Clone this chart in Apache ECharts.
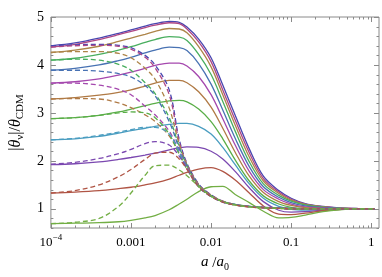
<!DOCTYPE html>
<html><head><meta charset="utf-8">
<script src="https://cdn.jsdelivr.net/npm/echarts@6/dist/echarts.min.js"></script>
<style>html,body{margin:0;padding:0;background:#fff}#c{width:382px;height:277px}</style>
</head><body><div id="c"></div><script>
// x positions (a / a0) shared by all curves
const aValues = [0.0001, 0.0002, 0.0004, 0.0007, 0.001, 0.0015, 0.002, 0.003, 0.004, 0.005, 0.007, 0.01, 0.014, 0.02, 0.03, 0.045, 0.07, 0.1, 0.15, 0.25, 0.4, 0.7, 1.1];

// solid curves (top to bottom)
const solid01 = [4.40, 4.46, 4.56, 4.66, 4.73, 4.81, 4.86, 4.91, 4.89, 4.79, 4.54, 4.15, 3.58, 2.95, 2.25, 1.68, 1.38, 1.22, 1.11, 1.05, 1.02, 1.005, 1.0];
const solid02 = [4.37, 4.43, 4.53, 4.63, 4.70, 4.78, 4.83, 4.88, 4.86, 4.75, 4.48, 4.07, 3.48, 2.85, 2.17, 1.63, 1.35, 1.20, 1.10, 1.045, 1.02, 1.005, 1.0];
const solid03 = [4.26, 4.31, 4.39, 4.49, 4.56, 4.64, 4.70, 4.76, 4.75, 4.67, 4.38, 3.96, 3.38, 2.75, 2.08, 1.58, 1.32, 1.18, 1.09, 1.04, 1.015, 1.0, 1.0];
const solid04 = [4.10, 4.14, 4.22, 4.31, 4.38, 4.47, 4.53, 4.59, 4.58, 4.51, 4.22, 3.80, 3.24, 2.62, 1.98, 1.52, 1.28, 1.16, 1.08, 1.035, 1.01, 1.0, 1.0];
const solid05 = [3.89, 3.93, 4.00, 4.09, 4.16, 4.25, 4.31, 4.37, 4.36, 4.30, 4.03, 3.60, 3.06, 2.47, 1.88, 1.46, 1.24, 1.13, 1.06, 1.025, 1.01, 1.0, 1.0];
const solid06 = [3.62, 3.65, 3.71, 3.79, 3.85, 3.93, 3.99, 4.04, 4.04, 3.98, 3.76, 3.38, 2.88, 2.33, 1.78, 1.40, 1.20, 1.10, 1.04, 1.015, 1.005, 1.0, 1.0];
const solid07 = [3.29, 3.32, 3.37, 3.43, 3.48, 3.56, 3.62, 3.68, 3.68, 3.63, 3.44, 3.12, 2.68, 2.18, 1.68, 1.34, 1.15, 1.07, 1.025, 1.005, 1.0, 1.0, 1.0];
const solid08 = [2.88, 2.90, 2.95, 3.02, 3.08, 3.15, 3.20, 3.25, 3.26, 3.23, 3.08, 2.82, 2.46, 2.02, 1.58, 1.27, 1.10, 1.03, 1.0, 0.995, 0.998, 1.0, 1.0];
const solid09 = [2.44, 2.46, 2.51, 2.58, 2.63, 2.68, 2.72, 2.76, 2.78, 2.78, 2.72, 2.56, 2.28, 1.92, 1.52, 1.22, 1.05, 0.99, 0.975, 0.985, 0.995, 1.0, 1.0];
const solid10 = [1.92, 1.94, 1.98, 2.03, 2.07, 2.12, 2.16, 2.23, 2.27, 2.29, 2.28, 2.20, 2.04, 1.78, 1.44, 1.15, 0.97, 0.93, 0.94, 0.97, 0.99, 1.0, 1.0];
const solid11 = [1.33, 1.35, 1.38, 1.42, 1.45, 1.50, 1.54, 1.62, 1.70, 1.76, 1.83, 1.86, 1.78, 1.60, 1.33, 1.06, 0.89, 0.88, 0.91, 0.96, 0.985, 1.0, 1.0];
const solid12 = [0.69, 0.70, 0.71, 0.73, 0.76, 0.81, 0.86, 0.98, 1.10, 1.20, 1.36, 1.46, 1.47, 1.30, 1.13, 0.95, 0.81, 0.82, 0.87, 0.94, 0.98, 1.0, 1.0];

// dashed curves (same starting values)
const dashed01 = [4.40, 4.42, 4.43, 4.41, 4.36, 4.20, 4.00, 3.48, 2.45, 1.95, 1.52, 1.29, 1.16, 1.09, 1.05, 1.03, 1.015, 1.01, 1.005, 1.0, 1.0, 1.0, 1.0];
const dashed02 = [4.37, 4.40, 4.41, 4.39, 4.33, 4.16, 3.94, 3.38, 2.40, 1.93, 1.51, 1.29, 1.16, 1.09, 1.05, 1.03, 1.015, 1.01, 1.005, 1.0, 1.0, 1.0, 1.0];
const dashed03 = [4.26, 4.28, 4.28, 4.24, 4.15, 3.93, 3.70, 3.10, 2.35, 1.92, 1.50, 1.28, 1.16, 1.09, 1.05, 1.03, 1.015, 1.01, 1.0, 1.0, 1.0, 1.0, 1.0];
const dashed04 = [4.10, 4.12, 4.10, 4.01, 3.89, 3.63, 3.40, 2.90, 2.30, 1.90, 1.49, 1.27, 1.15, 1.09, 1.05, 1.03, 1.015, 1.01, 1.0, 1.0, 1.0, 1.0, 1.0];
const dashed05 = [3.89, 3.89, 3.87, 3.82, 3.75, 3.57, 3.36, 2.82, 2.26, 1.88, 1.48, 1.27, 1.15, 1.09, 1.05, 1.03, 1.015, 1.01, 1.0, 1.0, 1.0, 1.0, 1.0];
const dashed06 = [3.62, 3.62, 3.58, 3.49, 3.38, 3.14, 2.96, 2.62, 2.20, 1.86, 1.47, 1.26, 1.15, 1.08, 1.05, 1.03, 1.01, 1.0, 1.0, 1.0, 1.0, 1.0, 1.0];
const dashed07 = [3.29, 3.30, 3.29, 3.21, 3.11, 2.96, 2.82, 2.52, 2.16, 1.84, 1.47, 1.26, 1.15, 1.08, 1.045, 1.025, 1.01, 1.0, 1.0, 1.0, 1.0, 1.0, 1.0];
const dashed08 = [2.88, 2.90, 2.95, 3.00, 3.02, 3.00, 2.90, 2.56, 2.14, 1.83, 1.46, 1.26, 1.15, 1.08, 1.045, 1.025, 1.01, 1.0, 1.0, 1.0, 1.0, 1.0, 1.0];
const dashed09 = [2.44, 2.47, 2.53, 2.60, 2.65, 2.70, 2.70, 2.56, 2.18, 1.84, 1.46, 1.26, 1.14, 1.08, 1.045, 1.025, 1.01, 1.0, 1.0, 1.0, 1.0, 1.0, 1.0];
const dashed10 = [1.93, 1.97, 2.05, 2.15, 2.24, 2.36, 2.40, 2.33, 2.10, 1.84, 1.46, 1.26, 1.14, 1.08, 1.04, 1.02, 1.01, 1.0, 1.0, 1.0, 1.0, 1.0, 1.0];
const dashed11 = [1.33, 1.38, 1.50, 1.67, 1.82, 2.03, 2.16, 2.18, 2.04, 1.82, 1.46, 1.26, 1.14, 1.08, 1.04, 1.02, 1.01, 1.0, 1.0, 1.0, 1.0, 1.0, 1.0];
const dashed12 = [0.69, 0.72, 0.80, 1.05, 1.33, 1.70, 1.90, 1.91, 1.81, 1.69, 1.47, 1.27, 1.15, 1.08, 1.04, 1.02, 1.01, 1.0, 1.0, 1.0, 1.0, 1.0, 1.0];

// ticks and tick labels
const xMajorTicks = [0.0001, 0.001, 0.01, 0.1, 1];
const xTickLabels = ['10^-4', '0.001', '0.01', '0.1', '1'];
const xMinorTicks = [0.0002, 0.0003, 0.0004, 0.0005, 0.0006, 0.0007, 0.0008, 0.0009,
  0.002, 0.003, 0.004, 0.005, 0.006, 0.007, 0.008, 0.009,
  0.02, 0.03, 0.04, 0.05, 0.06, 0.07, 0.08, 0.09,
  0.2, 0.3, 0.4, 0.5, 0.6, 0.7, 0.8, 0.9];
const yMajorTicks = [1, 2, 3, 4, 5];
const yTickLabels = ['1', '2', '3', '4', '5'];
const yMinorTicks = [0.6, 0.8, 1.2, 1.4, 1.6, 1.8, 2.2, 2.4, 2.6, 2.8, 3.2, 3.4, 3.6, 3.8, 4.2, 4.4, 4.6, 4.8];

const solids = [solid01, solid02, solid03, solid04, solid05, solid06, solid07, solid08, solid09, solid10, solid11, solid12];
const dasheds = [dashed01, dashed02, dashed03, dashed04, dashed05, dashed06, dashed07, dashed08, dashed09, dashed10, dashed11, dashed12];
const palette = ['#4946B0', '#AE4785', '#AD8448', '#48AE5E', '#4872B3', '#A548AE', '#B07A45', '#5AAE48', '#4A9DC0', '#7B48B0', '#B05545', '#72AE44'];
const frameColor = '#8a8a8a';
const serif = "'Liberation Serif', 'DejaVu Serif', serif";

function pairs(ys) { return aValues.map((a, i) => [a, ys[i]]); }

const series = [];
solids.forEach((s, i) => series.push({
  type: 'line', data: pairs(s), showSymbol: false, smooth: 0.35, silent: true,
  lineStyle: { color: palette[i], width: 1.3 }, z: 2
}));
dasheds.forEach((s, i) => series.push({
  type: 'line', data: pairs(s), showSymbol: false, smooth: 0.35, silent: true,
  lineStyle: { color: palette[i], width: 1.3, type: [5, 3] }, z: 3
}));

function xTickRender(params, api) {
  const cs = params.coordSys;
  const len = api.value(2) === 1 ? 5 : 2.5;
  const x = Math.round(api.coord([api.value(0), 1])[0]) + 0.5;
  const yb = cs.y + cs.height, yt = cs.y;
  const st = { stroke: frameColor, lineWidth: 1 };
  return { type: 'group', children: [
    { type: 'line', shape: { x1: x, y1: yb, x2: x, y2: yb - len }, style: st },
    { type: 'line', shape: { x1: x, y1: yt, x2: x, y2: yt + len }, style: st }
  ]};
}
function yTickRender(params, api) {
  const cs = params.coordSys;
  const len = api.value(2) === 1 ? 5 : 2.5;
  const y = Math.round(api.coord([0.01, api.value(1)])[1]) + 0.5;
  const xl = cs.x, xr = cs.x + cs.width;
  const st = { stroke: frameColor, lineWidth: 1 };
  return { type: 'group', children: [
    { type: 'line', shape: { x1: xl, y1: y, x2: xl + len, y2: y }, style: st },
    { type: 'line', shape: { x1: xr, y1: y, x2: xr - len, y2: y }, style: st }
  ]};
}
series.push({
  type: 'custom', silent: true, z: 1, renderItem: xTickRender, encode: { x: 0, y: 1 },
  data: xMajorTicks.map(v => [v, 1, 1]).concat(xMinorTicks.map(v => [v, 1, 0]))
});
series.push({
  type: 'custom', silent: true, z: 1, renderItem: yTickRender, encode: { x: 0, y: 1 },
  data: yMajorTicks.map(v => [0.01, v, 1]).concat(yMinorTicks.map(v => [0.01, v, 0]))
});

function xLabel(v) {
  for (let i = 0; i < xMajorTicks.length; i++) {
    if (Math.abs(Math.log10(v) - Math.log10(xMajorTicks[i])) < 1e-6) {
      const t = xTickLabels[i];
      if (t.indexOf('^') >= 0) {
        const p = t.split('^');
        return '{b|' + p[0] + '}{s|' + p[1].replace('-', '\u2212') + '}';
      }
      return '{b|' + t + '}';
    }
  }
  return '';
}
function yLabel(v) {
  for (let i = 0; i < yMajorTicks.length; i++) {
    if (Math.abs(v - yMajorTicks[i]) < 1e-9) return yTickLabels[i];
  }
  return '';
}

const chart = echarts.init(document.getElementById('c'), null, { renderer: 'canvas' });
chart.setOption({
  animation: false,
  backgroundColor: '#fff',
  grid: { left: 34, right: 3, top: 17, bottom: 43, show: true, borderColor: frameColor, borderWidth: 1 },
  xAxis: {
    type: 'log', logBase: 10, min: 0.0001, max: 1.25,
    axisLine: { show: false }, axisTick: { show: false }, splitLine: { show: false },
    axisLabel: {
      formatter: xLabel, margin: 5, color: '#000', fontFamily: serif, fontSize: 13,
      rich: {
        b: { fontFamily: serif, fontSize: 13, color: '#000', lineHeight: 16, verticalAlign: 'bottom' },
        s: { fontFamily: serif, fontSize: 9, color: '#000', lineHeight: 9, verticalAlign: 'top' }
      }
    },
    name: '{i|a} /{i|a}{sub|0}', nameLocation: 'middle', nameGap: 27,
    nameTextStyle: {
      fontFamily: serif, fontSize: 15, color: '#000',
      rich: {
        i: { fontFamily: serif, fontStyle: 'italic', fontSize: 15, color: '#000', lineHeight: 17, verticalAlign: 'top' },
        sub: { fontFamily: serif, fontSize: 10, color: '#000', lineHeight: 10, verticalAlign: 'bottom' }
      }
    }
  },
  yAxis: {
    type: 'value', min: 0.6, max: 5,
    axisLine: { show: false }, axisTick: { show: false }, splitLine: { show: false },
    axisLabel: { formatter: yLabel, margin: 7, color: '#000', fontFamily: serif, fontSize: 14 },
    name: '{n||}{i|θ}{sub|ν}{n||/}{i|θ}{sub|CDM}', nameLocation: 'middle', nameGap: 18, nameRotate: 90,
    nameTextStyle: {
      fontFamily: serif, fontSize: 16, color: '#000',
      rich: {
        n: { fontFamily: serif, fontSize: 16, color: '#000', lineHeight: 18, verticalAlign: 'top' },
        i: { fontFamily: serif, fontStyle: 'italic', fontSize: 16, color: '#000', lineHeight: 18, verticalAlign: 'top' },
        sub: { fontFamily: serif, fontSize: 11, color: '#000', lineHeight: 11, verticalAlign: 'bottom' }
      }
    }
  },
  series: series
});
</script></body></html>
